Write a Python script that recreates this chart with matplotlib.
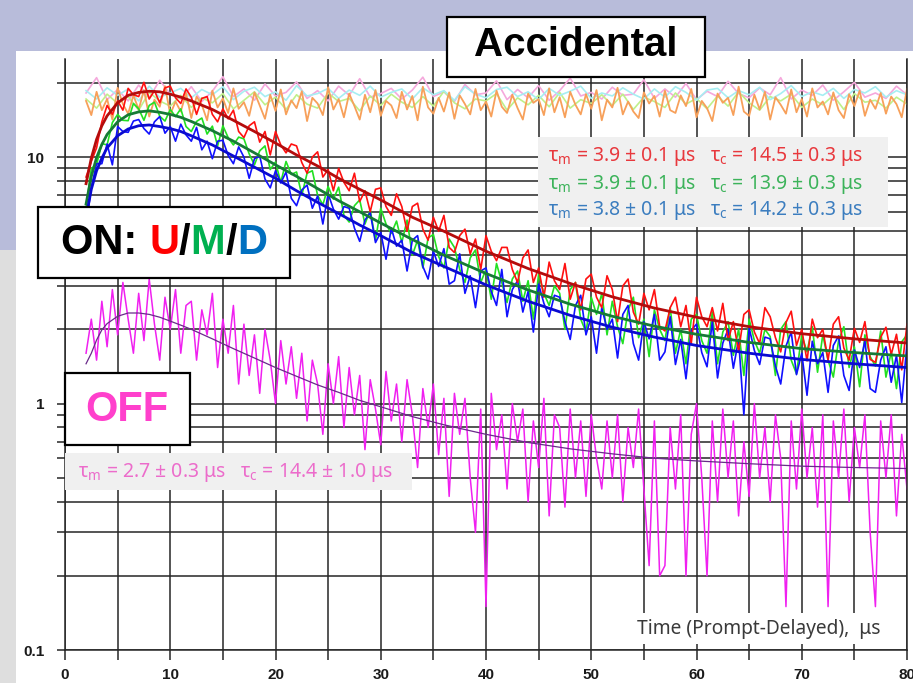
import numpy as np
import matplotlib.pyplot as plt
from matplotlib.patches import Rectangle
from matplotlib.offsetbox import TextArea, HPacker, AnnotationBbox
from matplotlib.ticker import FixedLocator, NullFormatter

W, H = 913, 683

# time bins, microseconds
t_data = np.arange(2.0, 80.01, 0.5)
t_acc = np.arange(2.0, 80.01, 1.0)
t_fit = [2, 2.5, 3, 3.5, 4, 5, 6, 7, 8, 9, 10, 11, 12, 14, 16, 18, 20, 22, 24, 26,
         28, 30, 33, 36, 40, 44, 48, 52, 56, 60, 65, 70, 75, 80]

# ON, upstream detector (U)
red_counts = [
    8.3, 9.6, 10.9, 13.9, 16.2, 14.9, 16.9, 15.5, 19.0, 17.9,
    17.6, 20.1, 17.2, 18.6, 16.6, 19.1, 19.4, 17.4, 16.5, 18.9,
    17.5, 14.9, 17.3, 17.6, 14.9, 13.9, 15.7, 14.3, 15.5, 12.7,
    12.0, 13.4, 13.9, 11.5, 12.7, 10.2, 12.7, 11.2, 10.4, 11.3,
    11.1, 9.5, 8.6, 10.0, 10.5, 8.3, 8.9, 7.3, 9.0, 7.9,
    7.3, 8.6, 6.6, 7.3, 6.0, 7.4, 7.5, 6.3, 5.8, 7.1,
    6.3, 5.0, 6.3, 6.5, 5.1, 4.6, 5.7, 5.0, 5.8, 4.3,
    4.1, 4.8, 5.1, 4.05, 4.65, 3.5, 4.8, 4.15, 3.8, 4.3,
    4.3, 3.5, 3.1, 3.9, 4.2, 3.1, 3.55, 2.7, 3.75, 3.15,
    2.9, 3.7, 2.65, 3.1, 2.4, 3.2, 3.35, 2.7, 2.45, 3.3,
    2.9, 2.15, 3.0, 3.2, 2.35, 2.1, 2.8, 2.4, 2.9, 2.05,
    1.97, 2.45, 2.7, 2.05, 2.5, 1.75, 2.7, 2.25, 2.05, 2.45,
    1.97, 2.55, 1.8, 2.15, 1.63, 2.3, 2.4, 1.95, 1.75, 2.45,
    2.25, 1.85, 1.62, 2.13, 2.37, 1.72, 2.0, 1.49, 2.2, 1.85,
    2.0, 1.5, 2.1, 2.25, 1.68, 1.5, 2.02, 1.77, 2.15, 1.51,
    1.47, 1.86, 2.04, 1.58, 1.91, 1.37, 2.1,
]

# ON, middle detector (M)
green_counts = [
    6.2, 9.0, 9.3, 11.35, 11.2, 13.8, 14.9, 14.1, 14.05, 16.5,
    15.7, 14.1, 16.2, 16.7, 14.65, 14.0, 15.6, 14.6, 15.7, 13.3,
    12.7, 13.95, 14.4, 12.4, 13.35, 11.1, 13.4, 12.0, 11.2, 12.05,
    11.85, 10.3, 9.3, 10.6, 11.1, 8.9, 9.55, 7.9, 9.6, 8.5,
    8.7, 7.0, 8.6, 8.8, 7.0, 6.4, 7.6, 6.75, 7.55, 5.8,
    5.45, 6.35, 6.7, 5.35, 6.1, 4.6, 6.2, 5.35, 4.9, 5.5,
    4.5, 5.55, 4.0, 4.6, 3.55, 4.7, 4.85, 3.95, 3.55, 4.65,
    4.3, 3.5, 3.1, 3.9, 4.2, 3.1, 3.5, 2.65, 3.7, 3.1,
    2.57, 3.2, 3.45, 2.6, 3.15, 2.2, 3.35, 2.8, 2.5, 3.0,
    2.8, 2.0, 2.9, 3.1, 2.2, 1.95, 2.7, 2.3, 2.8, 1.9,
    2.6, 2.05, 1.75, 2.4, 2.7, 1.85, 2.2, 1.55, 2.4, 2.0,
    1.8, 2.45, 1.6, 2.0, 1.45, 2.2, 2.3, 1.8, 1.6, 2.35,
    1.45, 1.95, 2.15, 1.57, 2.0, 1.3, 2.2, 1.8, 1.6, 2.0,
    1.87, 1.3, 2.0, 2.15, 1.5, 1.32, 1.9, 1.62, 2.05, 1.34,
    1.9, 1.5, 1.28, 1.8, 2.05, 1.4, 1.7, 1.17, 1.9, 1.55,
    1.42, 1.97, 1.28, 1.62, 1.15, 1.78, 1.9,
]

# ON, downstream detector (D)
blue_counts = [
    5.25, 7.55, 9.4, 9.4, 11.3, 9.3, 13.3, 12.7, 12.6, 14.0,
    14.2, 13.05, 12.4, 13.9, 14.6, 12.5, 13.3, 11.6, 13.6, 12.3,
    11.6, 13.2, 10.7, 11.6, 9.85, 11.6, 11.7, 10.15, 9.4, 11.0,
    10.0, 8.2, 9.85, 10.1, 8.15, 7.5, 8.8, 7.85, 8.7, 6.8,
    6.35, 7.35, 7.7, 6.2, 6.95, 5.35, 7.1, 6.15, 5.6, 6.3,
    6.2, 5.15, 4.55, 5.55, 5.95, 4.5, 4.95, 3.85, 5.15, 4.35,
    4.6, 3.45, 4.6, 4.8, 3.6, 3.2, 4.15, 3.6, 4.25, 3.05,
    3.15, 4.05, 2.8, 3.3, 2.45, 3.45, 3.55, 2.85, 2.5, 3.5,
    2.25, 2.9, 3.15, 2.35, 2.85, 1.95, 3.05, 2.55, 2.25, 2.75,
    2.7, 2.15, 1.82, 2.5, 2.75, 1.9, 2.25, 1.6, 2.45, 2.0,
    2.2, 1.53, 2.3, 2.5, 1.75, 1.5, 2.15, 1.83, 2.3, 1.5,
    1.62, 2.25, 1.44, 1.82, 1.26, 1.98, 2.1, 1.61, 1.41, 2.15,
    1.27, 1.76, 2.0, 1.39, 1.82, 0.9, 2.03, 1.64, 1.44, 1.86,
    1.83, 1.42, 1.2, 1.71, 1.95, 1.31, 1.6, 1.08, 1.79, 1.45,
    1.61, 1.11, 1.72, 1.88, 1.3, 1.13, 1.65, 1.4, 1.8, 1.15,
    1.11, 1.5, 1.7, 1.22, 1.57, 1.01, 1.75,
]

# OFF
off_counts = [
    1.6, 2.2, 1.5, 2.6, 1.7, 2.9, 1.9, 3.1, 2.2, 1.6,
    2.8, 1.8, 3.2, 2.1, 1.5, 2.7, 2.0, 2.9, 1.6, 2.5,
    2.6, 1.5, 2.4, 1.9, 2.8, 1.4, 2.2, 1.6, 2.5, 1.2,
    2.1, 1.3, 1.9, 1.1, 2.0, 1.5, 1.0, 1.8, 1.2, 1.7,
    1.05, 1.6, 0.85, 1.5, 1.2, 0.75, 1.45, 1.0, 1.55, 0.8,
    1.4, 0.9, 1.3, 0.65, 1.25, 0.95, 0.68, 1.35, 0.85, 1.2,
    0.7, 1.25, 0.9, 0.55, 1.15, 0.8, 1.2, 0.62, 1.05, 0.42,
    1.1, 0.75, 1.05, 0.5, 0.3, 0.95, 0.15, 1.1, 0.65, 0.9,
    0.45, 1.0, 0.7, 0.95, 0.4, 0.85, 0.55, 1.05, 0.35, 0.9,
    0.8, 0.38, 0.95, 0.5, 0.85, 0.42, 0.9, 0.6, 0.45, 0.85,
    0.5, 0.9, 0.4, 0.8, 0.55, 0.95, 0.45, 0.22, 0.85, 0.2,
    0.22, 0.8, 0.45, 0.9, 0.2, 0.75, 1.0, 0.5, 0.2, 0.85,
    0.4, 0.95, 0.5, 0.85, 0.35, 0.7, 0.42, 1.0, 0.5, 0.8,
    0.4, 0.9, 0.6, 0.15, 0.85, 0.45, 0.95, 0.5, 0.8, 0.38,
    0.9, 0.15, 0.85, 0.5, 0.95, 0.4, 0.8, 0.55, 0.9, 0.3,
    0.15, 0.85, 0.5, 0.9, 0.35, 0.75, 0.45,
]

# accidental coincidences (flat)
acc_orange = [
    16.9, 14.8, 18.4, 15.5, 17.2, 14.2, 19.1, 16.4, 15.0, 17.8,
    15.6, 18.7, 14.6, 17.1, 16.0, 19.4, 14.9, 16.8, 15.3, 18.2,
    14.4, 17.6, 16.3, 14.1, 18.6, 15.9, 17.3, 15.1, 19.0, 15.7,
    16.7, 14.7, 18.3, 16.2, 14.3, 17.9, 15.4, 18.8, 14.9, 17.0,
    15.8, 18.5, 14.0, 17.4, 16.5, 14.8, 19.2, 15.6, 17.2, 14.5,
    18.1, 16.1, 14.2, 17.9, 15.2, 18.7, 14.7, 16.9, 16.2, 14.4,
    18.4, 15.6, 17.7, 14.1, 19.3, 15.9, 15.0, 17.4, 15.3, 18.3,
    14.3, 17.8, 16.4, 14.9, 18.9, 15.5, 16.8, 14.6, 18.6, 16.0,
    15.1, 17.9, 15.8, 14.2, 18.1, 16.6, 17.2, 14.8, 19.0, 15.2,
    17.5, 14.5, 18.4, 16.3, 14.9, 18.0, 15.7, 18.7, 14.1, 17.1,
    15.9, 19.1, 14.9, 16.8, 15.3, 14.4, 18.3, 16.5, 17.7, 14.6,
    18.6, 15.5, 15.1, 17.8, 16.1, 18.9, 14.5, 16.9, 15.8, 14.0,
    18.1, 16.6, 17.4, 14.8, 19.3, 15.3, 14.7, 17.9, 15.6, 18.4,
    14.2, 17.5, 16.3, 15.0, 18.8, 15.2, 17.2, 14.6, 19.0, 15.9,
    16.8, 14.9, 18.3, 15.5, 14.4, 18.0, 16.1, 18.6, 14.7, 17.1,
    15.7, 18.2, 15.0, 17.6, 16.4, 14.5, 18.9,
]
acc_cyan = [
    18.6, 17.2, 19.1, 17.8, 18.9, 16.9, 19.4, 17.5, 18.2, 19.0,
    17.4, 18.8, 17.9, 19.3, 17.1, 18.5, 19.2, 17.6, 18.4, 17.0,
    19.5, 17.7, 18.1, 19.0, 17.3, 18.7, 17.8, 19.4, 17.5, 18.3,
    18.9, 17.2, 19.1, 17.9, 18.6, 17.0, 19.3, 18.0, 17.4, 18.8,
    19.2, 17.6, 18.4, 17.1, 19.0, 17.8, 18.5, 19.4, 17.3, 18.2,
    17.7, 19.1, 18.0, 17.2, 18.9, 17.5, 19.3, 18.3, 17.0, 18.7,
    19.0, 17.4, 18.6, 17.9, 19.2, 17.1, 18.1, 19.5, 17.6, 18.4,
    17.8, 19.0, 17.3, 18.8, 18.2, 19.3, 17.5, 18.6, 17.9,
]
acc_lime = [
    17.2, 15.8, 18.0, 16.5, 17.6, 15.5, 18.3, 16.9, 16.1, 17.8,
    15.9, 17.4, 16.6, 18.1, 15.7, 17.0, 18.4, 16.3, 17.5, 15.6,
    17.9, 16.4, 15.8, 18.2, 16.8, 17.3, 15.4, 17.7, 16.2, 18.0,
    16.7, 15.9, 17.6, 16.1, 18.5, 16.6, 15.7, 17.2, 16.9, 18.1,
    15.5, 17.4, 16.3, 17.8, 16.0, 18.3, 15.8, 17.1, 16.5, 17.9,
    16.2, 18.0, 15.6, 17.5, 16.8, 15.9, 18.2, 16.4, 17.3, 15.7,
    17.7, 16.1, 18.4, 16.6, 15.5, 17.6, 16.9, 18.0, 15.9, 17.2,
    16.3, 17.8, 15.6, 18.1, 16.7, 17.0, 15.8, 17.5, 16.4,
]
acc_pink = [
    18.2, 21.0, 17.1, 18.8, 16.9, 19.6, 17.4, 20.5, 18.0, 17.2,
    19.3, 16.8, 18.5, 21.2, 17.6, 18.9, 17.0, 19.8, 17.7, 18.3,
    20.2, 17.3, 18.6, 16.9, 19.4, 17.8, 20.8, 17.5, 18.1, 19.0,
    17.2, 18.7, 21.1, 17.6, 18.4, 16.8, 19.7, 17.9, 18.2, 20.4,
    17.1, 18.8, 17.4, 19.5, 17.0, 18.6, 20.9, 17.7, 18.3, 17.2,
    19.2, 17.8, 18.0, 20.6, 17.3, 18.9, 17.5, 19.9, 17.1, 18.5,
    17.6, 20.3, 18.1, 17.4, 19.1, 17.9, 21.0, 17.2, 18.7, 17.8,
    19.6, 17.0, 18.4, 20.1, 17.5, 18.2, 17.3, 19.4, 17.9,
]

# fitted curves
red_fit = [7.8, 9.9, 11.8, 13.4, 14.7, 16.6, 17.8, 18.3, 18.5, 18.4, 18.0, 17.5, 16.9,
           15.6, 14.1, 12.7, 11.4, 10.2, 9.2, 8.2, 7.4, 6.7, 5.7, 5.0, 4.15, 3.53,
           3.07, 2.71, 2.44, 2.24, 2.05, 1.92, 1.83, 1.76]
green_fit = [6.45, 8.35, 9.95, 11.25, 12.35, 13.9, 14.85, 15.25, 15.4, 15.2, 14.9, 14.5,
             13.95, 12.8, 11.6, 10.4, 9.3, 8.35, 7.45, 6.65, 6.0, 5.4, 4.63, 4.0, 3.37,
             2.89, 2.53, 2.26, 2.06, 1.91, 1.77, 1.67, 1.61, 1.56]
blue_fit = [5.7, 7.4, 8.8, 9.9, 10.9, 12.2, 13.0, 13.4, 13.5, 13.3, 13.05, 12.7, 12.2,
            11.2, 10.1, 9.1, 8.2, 7.3, 6.55, 5.9, 5.3, 4.8, 4.1, 3.6, 3.03, 2.6, 2.28,
            2.04, 1.86, 1.72, 1.6, 1.51, 1.45, 1.40]
off_fit = [1.45, 1.6, 1.81, 1.99, 2.11, 2.26, 2.33, 2.33, 2.3, 2.24, 2.16, 2.08, 2.0,
           1.83, 1.67, 1.53, 1.4, 1.29, 1.19, 1.11, 1.03, 0.97, 0.885, 0.82, 0.75,
           0.695, 0.655, 0.625, 0.6, 0.585, 0.57, 0.557, 0.55, 0.545]

fit_lines = [
    ('#e8383d', 'τ$_m$ = 3.9 ± 0.1 μs   τ$_c$ = 14.5 ± 0.3 μs'),
    ('#3cb35a', 'τ$_m$ = 3.9 ± 0.1 μs   τ$_c$ = 13.9 ± 0.3 μs'),
    ('#3b7dbf', 'τ$_m$ = 3.8 ± 0.1 μs   τ$_c$ = 14.2 ± 0.3 μs'),
]
off_label = 'τ$_m$ = 2.7 ± 0.3 μs   τ$_c$ = 14.4 ± 1.0 μs'

plt.rcParams['mathtext.fontset'] = 'custom'
plt.rcParams['mathtext.rm'] = 'Noto Sans'
plt.rcParams['mathtext.it'] = 'Noto Sans'

fig = plt.figure(figsize=(W / 100, H / 100), dpi=100)


def fx(x):
    return x / W


def fy(y):
    return 1 - y / H


def px_rect(x0, y0, x1, y1, **kw):
    r = Rectangle((fx(x0), fy(y1)), (x1 - x0) / W, (y1 - y0) / H,
                  transform=fig.transFigure, **kw)
    fig.add_artist(r)


# slide background
px_rect(0, 0, W, 51, facecolor='#b8bcda', edgecolor='none', zorder=-5)
px_rect(0, 51, 16, 250, facecolor='#b8bcda', edgecolor='none', zorder=-5)
px_rect(0, 250, 16, H, facecolor='#dedede', edgecolor='none', zorder=-5)

ax = fig.add_axes([fx(65), fy(650), 842 / W, 591 / H])
ax.set_yscale('log')

for vals, col in [(acc_pink, '#f5a8dc'), (acc_lime, '#bff08a'), (acc_cyan, '#a6eef2')]:
    ax.plot(t_acc, vals, color=col, lw=1.2)
ax.plot(t_data, acc_orange, color='#f7a05a', lw=1.3)

ax.plot(t_data, green_counts, color='#22e022', lw=1.2)
ax.plot(t_data, blue_counts, color='#1010ff', lw=1.2)
ax.plot(t_data, red_counts, color='#ff1010', lw=1.2)

ax.plot(t_fit, green_fit, color='#167a36', lw=2.0)
ax.plot(t_fit, blue_fit, color='#0a0ad0', lw=2.0)
ax.plot(t_fit, red_fit, color='#b40c0c', lw=2.0)

ax.plot(t_data, off_counts, color='#f020f0', lw=1.1)
ax.plot(t_fit, off_fit, color='#6a2a8a', lw=0.9)

ax.set_xlim(0, 80)
ax.set_ylim(0.1, 25)

ax.xaxis.set_major_locator(FixedLocator(range(0, 81, 10)))
ax.xaxis.set_minor_locator(FixedLocator(range(5, 80, 10)))
ax.yaxis.set_major_locator(FixedLocator([0.1, 1, 10]))
minor_y = [m * d for d in (0.1, 1, 10) for m in range(2, 10) if m * d < 25]
ax.yaxis.set_minor_locator(FixedLocator(minor_y))
ax.yaxis.set_minor_formatter(NullFormatter())
ax.set_yticklabels(['0.1', '1', '10'])

grid_c = '#262626'
ax.grid(True, which='both', color=grid_c, lw=1.1)
ax.set_axisbelow(True)
for s in ['left', 'right', 'bottom']:
    ax.spines[s].set_color(grid_c)
    ax.spines[s].set_linewidth(1.1)
ax.spines['top'].set_visible(False)
ax.tick_params(which='both', direction='out', color=grid_c, width=1.1)
ax.tick_params(axis='y', which='both', length=6, pad=9)
ax.tick_params(axis='x', which='both', length=7, pad=6)
for lab in ax.get_xticklabels() + ax.get_yticklabels():
    lab.set_fontfamily('Liberation Sans')
    lab.set_fontweight('bold')
    lab.set_fontsize(11)
    lab.set_color('#1a1a1a')

# axis title sits inside the plot on a white patch
px_rect(630, 613, 900, 644, facecolor='white', edgecolor='none', zorder=3)
fig.text(fx(637), fy(629), 'Time (Prompt-Delayed),  μs', family='Noto Sans',
         fontsize=13.8, color='#3a3a3a', va='center', ha='left', zorder=4)

# fit results
px_rect(538, 137, 888, 227, facecolor='#f0f0f0', edgecolor='none', zorder=3)
for i, (col, txt) in enumerate(fit_lines):
    fig.text(fx(548), fy(157 + 27 * i), txt, family='Noto Sans', fontsize=14,
             color=col, va='center', ha='left', zorder=4)

px_rect(65, 453, 412, 490, facecolor='#f0f0f0', edgecolor='none', zorder=3)
fig.text(fx(78), fy(472), off_label, family='Noto Sans', fontsize=14,
         color='#ec6ccb', va='center', ha='left', zorder=4)

# framed captions
px_rect(447, 17, 705, 77, facecolor='white', edgecolor='black', lw=1.6, zorder=5)
fig.text(fx(576), fy(45), 'Accidental', family='Liberation Sans', weight='bold',
         fontsize=29, color='black', ha='center', va='center', zorder=6)

px_rect(38, 207, 290, 278, facecolor='white', edgecolor='black', lw=1.6, zorder=5)
bold = dict(family='Liberation Sans', weight='bold', size=30)
parts = [('ON: ', 'black'), ('U', '#ff0000'), ('/', 'black'), ('M', '#00b050'),
         ('/', 'black'), ('D', '#0070c0')]
row = HPacker(children=[TextArea(s, textprops=dict(color=c, **bold)) for s, c in parts],
              sep=0, pad=0, align='baseline')
ab = AnnotationBbox(row, (fx(164), fy(243)), xycoords='figure fraction',
                    frameon=False, box_alignment=(0.5, 0.5), zorder=6)
fig.add_artist(ab)

px_rect(65, 373, 190, 445, facecolor='white', edgecolor='black', lw=1.6, zorder=5)
fig.text(fx(127), fy(410), 'OFF', family='Liberation Sans', weight='bold',
         fontsize=30, color='#ff40cc', ha='center', va='center', zorder=6)

fig.savefig('out.png', dpi=100)
